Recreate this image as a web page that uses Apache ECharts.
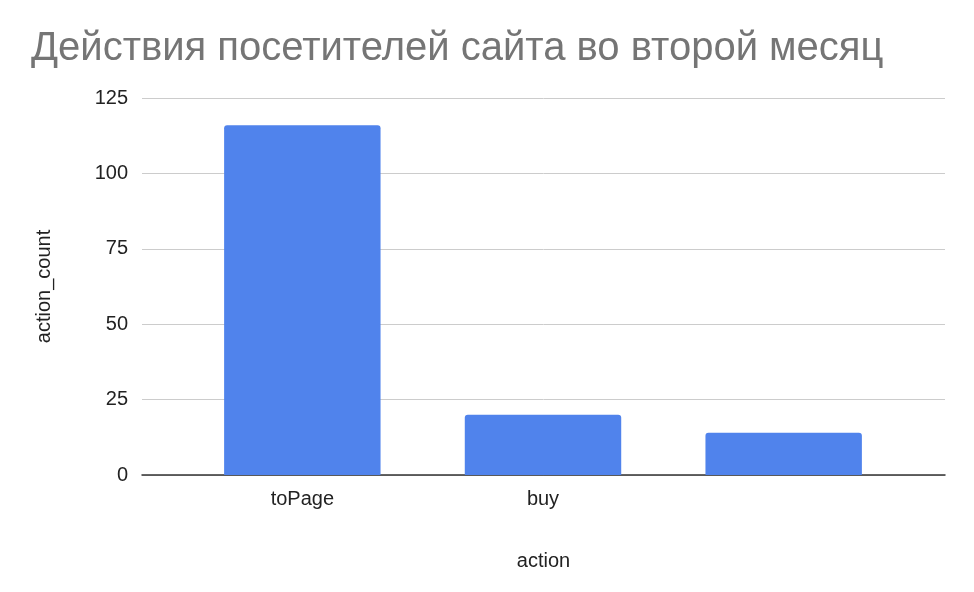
<!DOCTYPE html>
<html><head><meta charset="utf-8">
<script src="https://cdn.jsdelivr.net/npm/echarts@6/dist/echarts.min.js"></script>
<style>html,body{margin:0;padding:0;background:#fff}#c{width:974px;height:592px}</style>
</head><body><div id="c"></div>
<script>
const categories = ['toPage', 'buy', ''];
const actionCount = [116, 20, 14];
const yTicks = { min: 0, max: 125, interval: 25 };
const font = 'Liberation Sans, Arial';
const chart = echarts.init(document.getElementById('c'));
chart.setOption({
  animation: false,
  title: { text: 'Действия посетителей сайта во второй месяц', left: 26, top: 24,
    textStyle: { fontFamily: font, fontSize: 40, fontWeight: 'normal', color: '#757575' } },
  grid: [
    { left: 142, right: 29, top: 98, bottom: 117 },
    { left: 182, right: 70, top: 98, bottom: 117 }
  ],
  xAxis: [
    { gridIndex: 0, type: 'category', data: [''], name: 'action', nameLocation: 'middle', nameGap: 76,
      nameTextStyle: { fontFamily: font, fontSize: 20, color: '#222' },
      axisLine: { lineStyle: { color: '#333', width: 1.5 } }, axisTick: { show: false }, axisLabel: { show: false } },
    { gridIndex: 1, type: 'category', data: categories,
      axisLine: { show: false }, axisTick: { show: false },
      axisLabel: { fontFamily: font, fontSize: 20, color: '#222', margin: 14 } }
  ],
  yAxis: [
    Object.assign({ gridIndex: 0, type: 'value', name: 'action_count', nameLocation: 'middle', nameGap: 88,
      nameTextStyle: { fontFamily: font, fontSize: 20, color: '#222' },
      axisLine: { show: false }, axisTick: { show: false },
      splitLine: { lineStyle: { color: '#cccccc' } },
      axisLabel: { fontFamily: font, fontSize: 20, color: '#222', margin: 14 } }, yTicks),
    Object.assign({ gridIndex: 1, type: 'value', show: false, splitLine: { show: false } }, yTicks)
  ],
  series: [{ type: 'bar', xAxisIndex: 1, yAxisIndex: 1, data: actionCount, barWidth: '65%',
    itemStyle: { color: '#5083ec', borderRadius: [3, 3, 0, 0] } }]
});
</script></body></html>
